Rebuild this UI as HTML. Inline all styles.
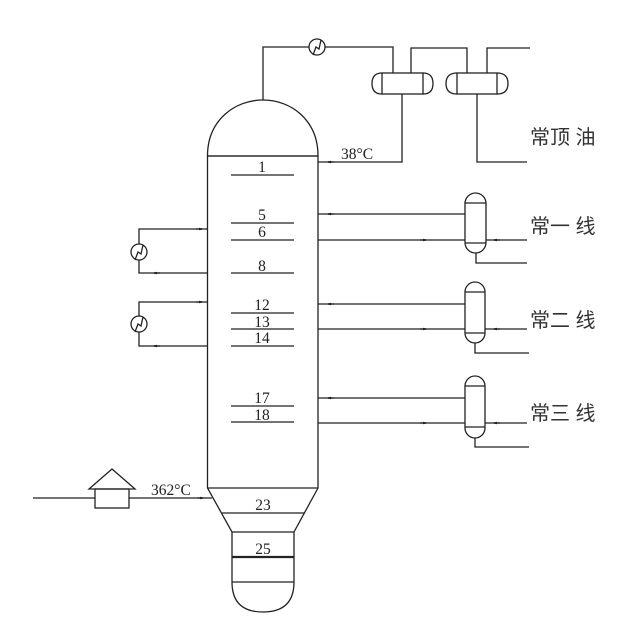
<!DOCTYPE html>
<html><head><meta charset="utf-8"><style>
html,body{margin:0;padding:0;background:#fff;}
svg{display:block;}
text{font-family:"Liberation Serif",serif;font-size:15.5px;fill:#222;}
.cj{font-family:"Liberation Sans","Noto Sans CJK SC",sans-serif;font-size:20px;fill:#333;}
</style></head><body>
<svg width="642" height="639" viewBox="0 0 642 639" xmlns="http://www.w3.org/2000/svg">
<defs><marker id="a" markerWidth="6" markerHeight="4" refX="3" refY="2" orient="auto" markerUnits="userSpaceOnUse"><path d="M0,0.8 L6,2 L0,3.2Z" fill="#222"/></marker></defs>
<g fill="none" stroke="#222" stroke-width="1.3">
<!-- column -->
<path d="M207.5,156 C207.5,120 235,100 263,100 C291,100 318,120 318,156"/>
<path d="M207.5,156 L207.5,488 L232,532 L232,582 Q232,612 263,612 Q294,612 294,582 L294,532 L318,488 L318,156Z"/>
<line x1="207.5" y1="156" x2="318" y2="156"/>
<line x1="207.5" y1="488" x2="318" y2="488"/>
<line x1="222" y1="513" x2="304" y2="513"/>
<line x1="232" y1="532" x2="294" y2="532"/>
<line x1="232" y1="557" x2="294" y2="557" stroke-width="2.2"/>
<line x1="232" y1="582" x2="294" y2="582"/>
<g stroke-width="1.2">
<line x1="231" y1="175" x2="294" y2="175"/>
<line x1="231" y1="223" x2="294" y2="223"/>
<line x1="231" y1="240" x2="294" y2="240"/>
<line x1="231" y1="273" x2="294" y2="273"/>
<line x1="231" y1="313" x2="294" y2="313"/>
<line x1="231" y1="329" x2="294" y2="329"/>
<line x1="231" y1="346" x2="294" y2="346"/>
<line x1="231" y1="406" x2="294" y2="406"/>
<line x1="231" y1="422" x2="294" y2="422"/>
</g>
<!-- overhead -->
<polyline points="263,100 263,47 309,47"/>
<circle cx="317" cy="47" r="8"/>
<path d="M313,55 L316,47 L319,49 L321,40"/>
<polyline points="325,47 393,47 393,73"/>
<rect x="382" y="73" width="41" height="21"/>
<path d="M382,73 Q372,73 372,83.5 Q372,94 382,94"/>
<path d="M423,73 Q433,73 433,83.5 Q433,94 423,94"/>
<polyline points="411,73 411,48 467,48 467,73"/>
<rect x="457" y="73" width="40" height="21"/>
<path d="M457,73 Q446,73 446,83.5 Q446,94 457,94"/>
<path d="M497,73 Q508,73 508,83.5 Q508,94 497,94"/>
<polyline points="487,73 487,48 530,48"/>
<polyline points="477,94 477,162 527,162"/>
<polyline points="402,94 402,162 318,162"/><path d="M334,162 l-6,0" marker-end="url(#a)"/>
<!-- strippers -->
<rect x="465" y="193" width="21" height="60" rx="10.5"/>
<line x1="465" y1="203" x2="486" y2="203"/>
<line x1="465" y1="243" x2="486" y2="243"/>
<line x1="465" y1="214" x2="318" y2="214"/><path d="M334,214 l-6,0" marker-end="url(#a)"/>
<line x1="318" y1="240" x2="465" y2="240"/><path d="M420,240 l6,0" marker-end="url(#a)"/>
<line x1="527" y1="240" x2="486" y2="240"/><path d="M500,240 l-6,0" marker-end="url(#a)"/>
<polyline points="476,253 476,263 527,263"/>

<rect x="465" y="282" width="20" height="61" rx="10"/>
<line x1="465" y1="292" x2="485" y2="292"/>
<line x1="465" y1="333" x2="485" y2="333"/>
<line x1="465" y1="304" x2="318" y2="304"/><path d="M334,304 l-6,0" marker-end="url(#a)"/>
<line x1="318" y1="329" x2="465" y2="329"/><path d="M420,329 l6,0" marker-end="url(#a)"/>
<line x1="527" y1="329" x2="485" y2="329"/><path d="M500,329 l-6,0" marker-end="url(#a)"/>
<polyline points="475,343 475,353 529,353"/>

<rect x="465" y="376" width="20" height="62" rx="10"/>
<line x1="465" y1="386" x2="485" y2="386"/>
<line x1="465" y1="427" x2="485" y2="427"/>
<line x1="465" y1="398" x2="318" y2="398"/><path d="M334,398 l-6,0" marker-end="url(#a)"/>
<line x1="318" y1="423" x2="465" y2="423"/><path d="M420,423 l6,0" marker-end="url(#a)"/>
<line x1="527" y1="423" x2="485" y2="423"/><path d="M500,423 l-6,0" marker-end="url(#a)"/>
<polyline points="475,438 475,447 529,447"/>

<!-- pumparounds -->
<polyline points="207.5,273 139,273 139,260"/><path d="M160,273 l-6,0" marker-end="url(#a)"/>
<circle cx="139" cy="252" r="8"/><path d="M135,260 L138,252 L141,254 L143,245"/>
<polyline points="139,244 139,229 207.5,229"/><path d="M196,229 l6,0" marker-end="url(#a)"/>
<polyline points="207.5,346 139,346 139,332"/><path d="M160,346 l-6,0" marker-end="url(#a)"/>
<circle cx="139" cy="324" r="8"/><path d="M135,332 L138,324 L141,326 L143,317"/>
<polyline points="139,316 139,302 207.5,302"/><path d="M196,302 l6,0" marker-end="url(#a)"/>

<!-- feed -->
<line x1="33" y1="498" x2="95" y2="498"/>
<rect x="95" y="489" width="34" height="19"/>
<path d="M89,489 L112,469 L135,489Z"/>
<line x1="129" y1="498" x2="212" y2="498"/><path d="M197,498 l6,0" marker-end="url(#a)"/>
</g>
<g text-anchor="middle">
<text x="262" y="172">1</text>
<text x="262" y="220">5</text>
<text x="262" y="237">6</text>
<text x="262" y="271">8</text>
<text x="262" y="310">12</text>
<text x="262" y="327">13</text>
<text x="262" y="343">14</text>
<text x="262" y="403">17</text>
<text x="262" y="420">18</text>
<text x="263" y="510">23</text>
<text x="263" y="554">25</text>
</g>
<text x="341" y="159">38°C</text>
<text x="151" y="495">362°C</text>
<text class="cj" x="530" y="144">常顶 油</text>
<text class="cj" x="530" y="233">常一 线</text>
<text class="cj" x="530" y="327">常二 线</text>
<text class="cj" x="530" y="420">常三 线</text>
</svg>
</body></html>
